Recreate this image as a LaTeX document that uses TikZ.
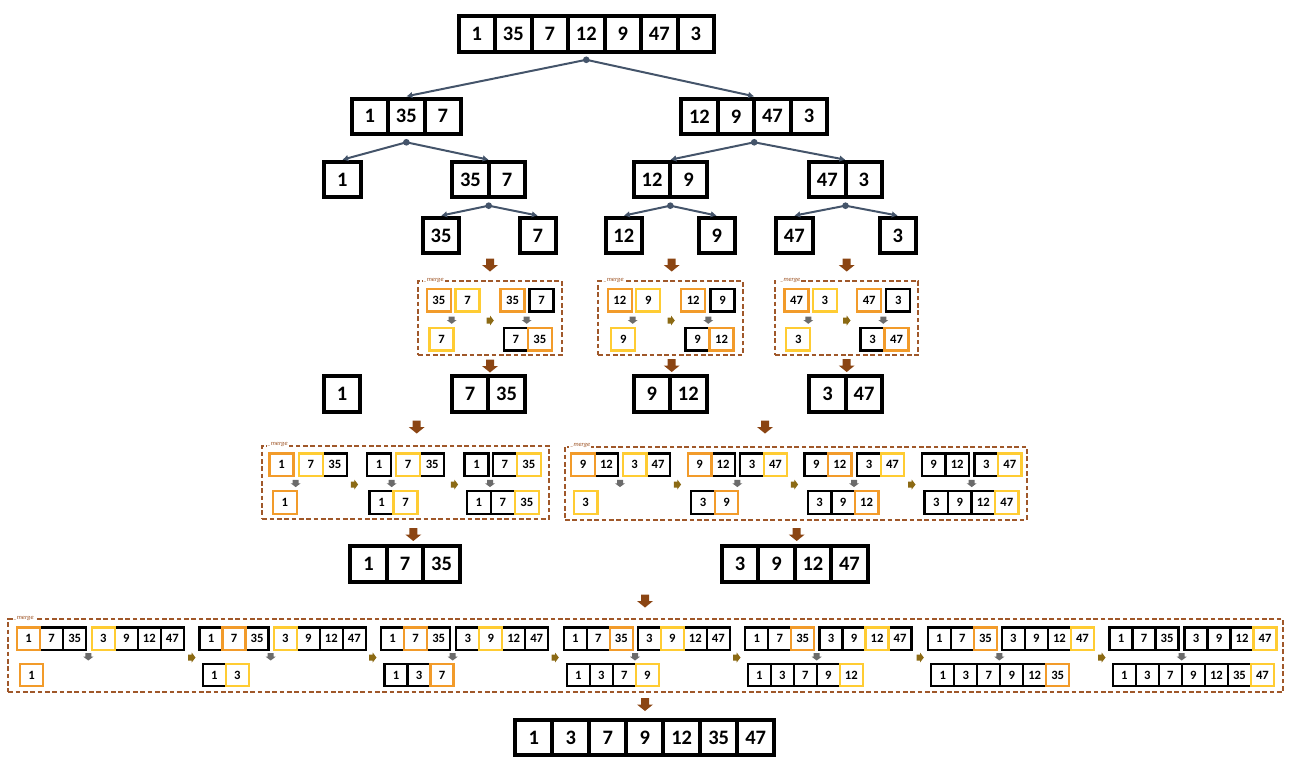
\documentclass[tikz,border=0pt]{standalone}
\usepackage{fontspec}
\setmainfont{Carlito}
\usetikzlibrary{arrows.meta,positioning,calc,fit}
\definecolor{slate}{HTML}{44546A}
\definecolor{cellO}{HTML}{F29B2A}
\definecolor{cellY}{HTML}{FFCC33}
\colorlet{cellK}{black}
\definecolor{mergebrown}{HTML}{8B4513}
\definecolor{boxbrown}{HTML}{A0582A}
\definecolor{stepgrey}{HTML}{6B6B6B}
\definecolor{stepolive}{HTML}{8C6A14}
\tikzset{
bigcell/.style = {rectangle, inner sep=0, line width=1.2mm, minimum height=10.65mm, font=\fontsize{17.5}{17.5}\selectfont\bfseries},
smallcell/.style = {rectangle, inner sep=0, line width=0.69mm, minimum height=6.8mm, font=\fontsize{10.8}{10.8}\selectfont\bfseries},
splitdot/.style = {circle, fill=slate, inner sep=0, minimum size=2mm},
tree/.style = {->, draw=slate, line width=0.6mm},
mergebox/.style = {draw=boxbrown, dash pattern=on 1.4mm off 0.8mm, line width=0.55mm, inner sep=0},
mergetag/.style = {text=boxbrown, fill=white, inner sep=0.3mm, anchor=west, font=\fontsize{5.5}{5.5}\selectfont\itshape},
mergearrow/.pic = {\fill[mergebrown] (-4,-6.5) -- (4,-6.5) -- (4,0) -- (8,0) -- (0,6.5) -- (-8,0) -- (-4,0) -- cycle;},
stepdown/.pic = {\fill[stepgrey] (-3,-3.5) -- (3,-3.5) -- (3,0) -- (5,0) -- (0,3.8) -- (-5,0) -- (-3,0) -- cycle;},
stepright/.pic = {\fill[stepolive] (-3.5,-3) -- (0,-3) -- (0,-5) -- (3.8,0) -- (0,5) -- (0,3) -- (-3.5,3) -- cycle;}
}
\def\plainK{K}
% one array: name, style, pitch, left x, centre y, value/colour list
\newcommand{\cellrow}[6]{%
  \foreach \val/\col [count=\i] in {#6}{
    \node[#2, minimum width=#3*0.3mm, draw=cell\col] (#1-\i) at ({#4+(\i-0.5)*#3}, #5) {\val};
    \xdef\ncells{\i}
  }
  \foreach \val/\col [count=\i] in {#6}{
    \edef\tmpcol{\col}
    \ifx\tmpcol\plainK\else \node[#2, minimum width=#3*0.3mm, draw=cell\col] at (#1-\i) {}; \fi
  }
  \node[inner sep=0, fit=(#1-1)(#1-\ncells)] (#1) {};
}

\begin{document}
\begin{tikzpicture}[x=0.3mm, y=-0.3mm, >={Latex[length=1.8mm,width=2mm]}]
\useasboundingbox (0,0) rectangle (1292,767);

% splitting
\cellrow{s}{bigcell}{36.5}{458.5}{33.8}{1/K,35/K,7/K,12/K,9/K,47/K,3/K}
\cellrow{sL}{bigcell}{36.5}{351.6}{116.3}{1/K,35/K,7/K}
\cellrow{sR}{bigcell}{36.5}{681.2}{116.3}{12/K,9/K,47/K,3/K}
\cellrow{sLL}{bigcell}{36.5}{324}{179.7}{1/K}
\cellrow{sLR}{bigcell}{36.5}{452.2}{179.7}{35/K,7/K}
\cellrow{sRL}{bigcell}{36.5}{633.8}{179.7}{12/K,9/K}
\cellrow{sRR}{bigcell}{36.5}{809}{179.7}{47/K,3/K}
\cellrow{sLRL}{bigcell}{36.5}{422.8}{235.6}{35/K}
\cellrow{sLRR}{bigcell}{36.5}{519.6}{235.6}{7/K}
\cellrow{sRLL}{bigcell}{36.5}{605.5}{235.6}{12/K}
\cellrow{sRLR}{bigcell}{36.5}{698.5}{235.6}{9/K}
\cellrow{sRRL}{bigcell}{36.5}{776}{235.6}{47/K}
\cellrow{sRRR}{bigcell}{36.5}{879.6}{235.6}{3/K}

\node[splitdot] (d) at ($(s.south)+(0,6)$) {};
\node[splitdot] (dL) at ($(sL.south)+(0,6)$) {};
\node[splitdot] (dR) at ($(sR.south)+(0,6)$) {};
\node[splitdot] (dLR) at ($(sLR.south)+(0,6)$) {};
\node[splitdot] (dRL) at ($(sRL.south)+(0,6)$) {};
\node[splitdot] (dRR) at ($(sRR.south)+(0,6)$) {};
\draw[tree] (d.center) -- (sL.north);
\draw[tree] (d.center) -- (sR.north);
\draw[tree] (dL.center) -- (sLL.north);
\draw[tree] (dL.center) -- (sLR.north);
\draw[tree] (dR.center) -- (sRL.north);
\draw[tree] (dR.center) -- (sRR.north);
\draw[tree] (dLR.center) -- (sLRL.north);
\draw[tree] (dLR.center) -- (sLRR.north);
\draw[tree] (dRL.center) -- (sRLL.north);
\draw[tree] (dRL.center) -- (sRLR.north);
\draw[tree] (dRR.center) -- (sRRL.north);
\draw[tree] (dRR.center) -- (sRRR.north);

% first merges
\node[mergebox, fit={(418.3,281) (561.7,355)}] (m1) {};
\node[mergebox, fit={(598.3,281) (742.7,355)}] (m2) {};
\node[mergebox, fit={(775,281) (918.3,355)}] (m3) {};
\foreach \m in {m1,m2,m3} \node[mergetag] at ($(\m.north west)+(5,0)$) {\_merge};
\cellrow{a1}{smallcell}{24}{426.9}{300.3}{35/O}
\cellrow{a2}{smallcell}{24}{455.5}{300.3}{7/Y}
\cellrow{a3}{smallcell}{24}{429.5}{339.2}{7/Y}
\cellrow{a4}{smallcell}{24}{500.5}{300.3}{35/O}
\cellrow{a5}{smallcell}{24}{529.5}{300.3}{7/K}
\cellrow{a6}{smallcell}{24}{503.9}{339.2}{7/K,35/O}
\cellrow{b1}{smallcell}{24}{607.9}{300.3}{12/O}
\cellrow{b2}{smallcell}{24}{636.2}{300.3}{9/Y}
\cellrow{b3}{smallcell}{24}{611.2}{339.2}{9/Y}
\cellrow{b4}{smallcell}{24}{681.2}{300.3}{12/O}
\cellrow{b5}{smallcell}{24}{710.5}{300.3}{9/K}
\cellrow{b6}{smallcell}{24}{685.5}{339.2}{9/K,12/O}
\cellrow{c1}{smallcell}{24}{784.5}{300.3}{47/O}
\cellrow{c2}{smallcell}{24}{812.9}{300.3}{3/Y}
\cellrow{c3}{smallcell}{24}{786.2}{339.2}{3/Y}
\cellrow{c4}{smallcell}{24}{857.2}{300.3}{47/O}
\cellrow{c5}{smallcell}{24}{886.2}{300.3}{3/K}
\cellrow{c6}{smallcell}{24}{860.5}{339.2}{3/K,47/O}
\foreach \x in {451.7,526.7,632.7,708.3,808.3,883.3} \pic at (\x,320) {stepdown};
\foreach \x in {490,671,846.7} \pic at (\x,320.5) {stepright};

\cellrow{rLL}{bigcell}{36.5}{323.8}{394}{1/K}
\cellrow{rLR}{bigcell}{36.5}{451.8}{394}{7/K,35/K}
\cellrow{rRL}{bigcell}{36.5}{633.5}{394}{9/K,12/K}
\cellrow{rRR}{bigcell}{36.5}{809.3}{394}{3/K,47/K}

% second merges
\node[mergebox, fit={(262.3,445.7) (549,519)}] (m4) {};
\node[mergebox, fit={(565,446.7) (1026.7,520)}] (m5) {};
\foreach \m in {m4,m5} \node[mergetag] at ($(\m.north west)+(5,0)$) {\_merge};
\cellrow{e1}{smallcell}{24}{269.5}{464.8}{1/O}
\cellrow{e2}{smallcell}{24}{298.9}{464.8}{7/Y,35/K}
\cellrow{e3}{smallcell}{24}{272.9}{502.5}{1/O}
\cellrow{e4}{smallcell}{24}{367.2}{464.8}{1/K}
\cellrow{e5}{smallcell}{24}{396.2}{464.8}{7/Y,35/K}
\cellrow{e6}{smallcell}{24}{369.5}{502.5}{1/K,7/Y}
\cellrow{e7}{smallcell}{24}{464.5}{464.8}{1/K}
\cellrow{e8}{smallcell}{24}{492.9}{464.8}{7/K,35/Y}
\cellrow{e9}{smallcell}{24}{466.9}{502.5}{1/K,7/K,35/Y}
\cellrow{f1}{smallcell}{23.5}{571.2}{464.8}{9/O,12/K}
\cellrow{f2}{smallcell}{23.5}{622.9}{464.8}{3/Y,47/K}
\cellrow{f3}{smallcell}{23.5}{573.9}{502.5}{3/Y}
\cellrow{f4}{smallcell}{23.5}{687.9}{464.8}{9/O,12/K}
\cellrow{f5}{smallcell}{23.5}{740.2}{464.8}{3/K,47/Y}
\cellrow{f6}{smallcell}{23.5}{691.2}{502.5}{3/K,9/O}
\cellrow{f7}{smallcell}{23.5}{804.5}{464.8}{9/K,12/O}
\cellrow{f8}{smallcell}{23.5}{857.2}{464.8}{3/K,47/Y}
\cellrow{f9}{smallcell}{23.5}{807.9}{502.5}{3/K,9/K,12/O}
\cellrow{f10}{smallcell}{23.5}{921.9}{464.8}{9/K,12/K}
\cellrow{f11}{smallcell}{23.5}{974.5}{464.8}{3/K,47/Y}
\cellrow{f12}{smallcell}{23.5}{924.5}{502.5}{3/K,9/K,12/K,47/Y}
\foreach \x in {295.7,391.7,490,620,737.3,854,971.7} \pic at (\x,483.3) {stepdown};
\foreach \x in {354.3,454.3,677.3,794.3,911.7} \pic at (\x,484.5) {stepright};

\cellrow{rL}{bigcell}{36.5}{350.3}{563.8}{1/K,7/K,35/K}
\cellrow{rR}{bigcell}{36.5}{721.7}{563.8}{3/K,9/K,12/K,47/K}

% last merge
\node[mergebox, fit={(8.3,619.3) (1283.3,691.7)}] (m6) {};
\node[mergetag] at ($(m6.north west)+(5,0)$) {\_merge};
\cellrow{g1}{smallcell}{23}{17.2}{638.7}{1/O,7/K,35/K}
\cellrow{g2}{smallcell}{23}{91.9}{638.7}{3/Y,9/K,12/K,47/K}
\cellrow{g3}{smallcell}{23}{20.2}{675}{1/O}
\cellrow{g4}{smallcell}{23}{199.5}{638.7}{1/K,7/O,35/K}
\cellrow{g5}{smallcell}{23}{273.9}{638.7}{3/Y,9/K,12/K,47/K}
\cellrow{g6}{smallcell}{23}{202.9}{675}{1/K,3/Y}
\cellrow{g7}{smallcell}{23}{381.2}{638.7}{1/K,7/O,35/K}
\cellrow{g8}{smallcell}{23}{456.2}{638.7}{3/K,9/Y,12/K,47/K}
\cellrow{g9}{smallcell}{23}{384.5}{675}{1/K,3/K,7/O}
\cellrow{g10}{smallcell}{23}{563.9}{638.7}{1/K,7/K,35/O}
\cellrow{g11}{smallcell}{23}{637.9}{638.7}{3/K,9/Y,12/K,47/K}
\cellrow{g12}{smallcell}{23}{566.9}{675}{1/K,3/K,7/K,9/Y}
\cellrow{g13}{smallcell}{23}{745.2}{638.7}{1/K,7/K,35/O}
\cellrow{g14}{smallcell}{23}{819.5}{638.7}{3/K,9/K,12/Y,47/K}
\cellrow{g15}{smallcell}{23}{747.9}{675}{1/K,3/K,7/K,9/K,12/Y}
\cellrow{g16}{smallcell}{23}{927.9}{638.7}{1/K,7/K,35/O}
\cellrow{g17}{smallcell}{23}{1001.9}{638.7}{3/K,9/K,12/K,47/Y}
\cellrow{g18}{smallcell}{23}{931.2}{675}{1/K,3/K,7/K,9/K,12/K,35/O}
\cellrow{g19}{smallcell}{23}{1109.5}{638.7}{1/K,7/K,35/K}
\cellrow{g20}{smallcell}{23}{1184.5}{638.7}{3/K,9/K,12/K,47/Y}
\cellrow{g21}{smallcell}{23}{1112.9}{675}{1/K,3/K,7/K,9/K,12/K,35/K,47/Y}
\foreach \x in {88.3,270.7,452.7,635,816.7,999.3,1181.7} \pic at (\x,656.7) {stepdown};
\foreach \x in {191.7,372.7,555,736.7,920,1101.7} \pic at (\x,657.5) {stepright};

\cellrow{r}{bigcell}{37}{515.2}{737.5}{1/K,3/K,7/K,9/K,12/K,35/K,47/K}

% merge arrows
\foreach \x/\y in {490/265,671.7/265,846.7/265,490/366,671.7/365.5,846.7/365.5,416.7/427,765/427,413.3/534.5,796.7/534.5,645/601,645/704.5}
  \pic at (\x,\y) {mergearrow};
\end{tikzpicture}
\end{document}
